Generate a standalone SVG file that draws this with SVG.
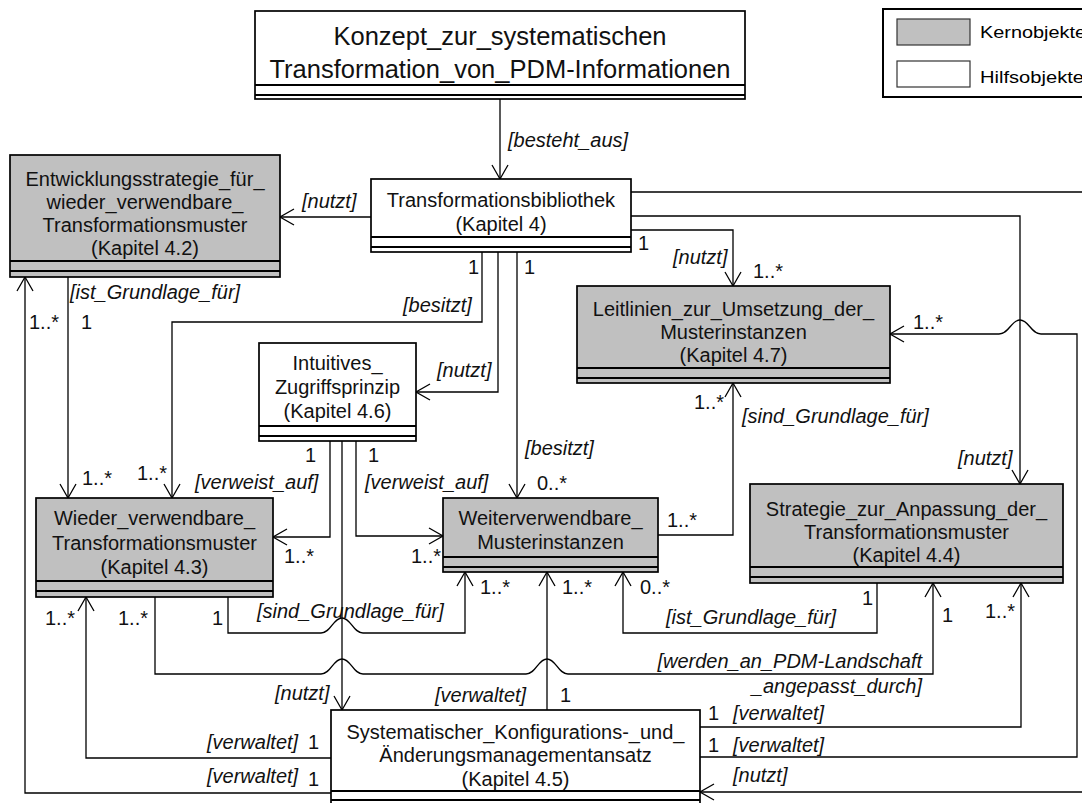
<svg xmlns="http://www.w3.org/2000/svg" width="1082" height="803" viewBox="0 0 1082 803">
  <style>
    .box { stroke: #000; stroke-width: 1.7; }
    .core { fill: #c0c0c0; }
    .aux { fill: #fff; }
    .div { stroke: #000; stroke-width: 2; }
    .t { font-family: "Liberation Sans", Arial, sans-serif; font-size: 20px; text-anchor: middle; fill: #111; }
    .title { font-family: "Liberation Sans", Arial, sans-serif; font-size: 25.5px; text-anchor: middle; fill: #111; }
    .lb { font-family: "Liberation Sans", Arial, sans-serif; font-size: 20px; font-style: italic; fill: #111; }
    .end { text-anchor: end; }
    .m { font-family: "Liberation Sans", Arial, sans-serif; font-size: 20px; fill: #111; }
    .conn { fill: none; stroke: #000; stroke-width: 1.3; }
    .conn.a { marker-end: url(#arr); }
    .lg { font-family: "Liberation Sans", Arial, sans-serif; font-size: 16.5px; fill: #000; }
  </style>
  <defs>
    <marker id="arr" markerWidth="16" markerHeight="18" refX="15" refY="9" orient="auto" markerUnits="userSpaceOnUse" overflow="visible">
      <path d="M1,1 L15,9 L1,17" fill="none" stroke="#000" stroke-width="1.3"/>
    </marker>
  </defs>
  <rect width="1082" height="803" fill="#fff"/>

  <!-- connectors -->
  <g id="connectors">
    <path class="conn a" d="M500,99 V179"/>
    <path class="conn a" d="M371,217 H280"/>
    <path class="conn a" d="M631,230 H733 V286"/>
    <path class="conn a" d="M631,216 H1020 V484"/>
    <path class="conn a" d="M631,192 H1100 V792 H700"/>
    <path class="conn a" d="M482,252 V322 H172 V498"/>
    <path class="conn a" d="M498,252 V392 H416"/>
    <path class="conn a" d="M517,252 V498"/>
    <path class="conn a" d="M68,277 V498"/>
    <path class="conn a" d="M331,793 H25 V277"/>
    <path class="conn a" d="M331,758 H86 V597"/>
    <path class="conn a" d="M330,441 V537 H273"/>
    <path class="conn a" d="M356,441 V536 H443"/>
    <path class="conn a" d="M342,441 V710"/>
    <path class="conn a" d="M228,597 V633 H321 C331,633 333,618 342,618 C351,618 353,633 363,633 H465 V572"/>
    <path class="conn a" d="M155,597 V674 H321 C331,674 333,659 342,659 C351,659 353,674 363,674 H526 C536,674 538,659 547,659 C556,659 558,674 568,674 H933 V583"/>
    <path class="conn a" d="M547,710 V572"/>
    <path class="conn a" d="M877,583 V633 H623 V572"/>
    <path class="conn a" d="M658,535 H733 V383"/>
    <path class="conn a" d="M700,727 H1021 V583"/>
    <path class="conn a" d="M700,757 H1077 V334 H1041 C1031,334 1029,320 1020,320 C1011,320 1009,334 999,334 H890"/>
  </g>

  <!-- connector labels -->
  <g id="labels">
    <text class="lb" x="508" y="147">[besteht_aus]</text>
    <text class="lb" x="302" y="208">[nutzt]</text>
    <text class="lb" x="673" y="264">[nutzt]</text>
    <text class="lb" x="403" y="312">[besitzt]</text>
    <text class="lb" x="437" y="377">[nutzt]</text>
    <text class="lb" x="525" y="455">[besitzt]</text>
    <text class="lb" x="70" y="299">[ist_Grundlage_für]</text>
    <text class="lb" x="195" y="489">[verweist_auf]</text>
    <text class="lb" x="365" y="489">[verweist_auf]</text>
    <text class="lb" x="742" y="423">[sind_Grundlage_für]</text>
    <text class="lb" x="958" y="465">[nutzt]</text>
    <text class="lb" x="257" y="618">[sind_Grundlage_für]</text>
    <text class="lb" x="666" y="624">[ist_Grundlage_für]</text>
    <text class="lb end" x="922" y="668">[werden_an_PDM-Landschaft</text>
    <text class="lb end" x="922" y="693">_angepasst_durch]</text>
    <text class="lb" x="275" y="700">[nutzt]</text>
    <text class="lb" x="435" y="702">[verwaltet]</text>
    <text class="lb" x="733" y="720">[verwaltet]</text>
    <text class="lb" x="733" y="752">[verwaltet]</text>
    <text class="lb" x="733" y="782">[nutzt]</text>
    <text class="lb" x="207" y="749">[verwaltet]</text>
    <text class="lb" x="207" y="783">[verwaltet]</text>

    <text class="m" x="638" y="250">1</text>
    <text class="m" x="753" y="278">1..*</text>
    <text class="m" x="468" y="274">1</text>
    <text class="m" x="524" y="274">1</text>
    <text class="m" x="537" y="490">0..*</text>
    <text class="m" x="29" y="329">1..*</text>
    <text class="m" x="81" y="329">1</text>
    <text class="m" x="82" y="485">1..*</text>
    <text class="m" x="137" y="480">1..*</text>
    <text class="m" x="305" y="462">1</text>
    <text class="m" x="368" y="462">1</text>
    <text class="m" x="284" y="563">1..*</text>
    <text class="m" x="411" y="563">1..*</text>
    <text class="m" x="667" y="527">1..*</text>
    <text class="m" x="694" y="409">1..*</text>
    <text class="m" x="913" y="329">1..*</text>
    <text class="m" x="45" y="625">1..*</text>
    <text class="m" x="118" y="625">1..*</text>
    <text class="m" x="212" y="625">1</text>
    <text class="m" x="480" y="594">1..*</text>
    <text class="m" x="562" y="594">1..*</text>
    <text class="m" x="640" y="594">0..*</text>
    <text class="m" x="862" y="605">1</text>
    <text class="m" x="942" y="622">1</text>
    <text class="m" x="985" y="618">1..*</text>
    <text class="m" x="560" y="702">1</text>
    <text class="m" x="708" y="720">1</text>
    <text class="m" x="708" y="752">1</text>
    <text class="m" x="308" y="749">1</text>
    <text class="m" x="308" y="786">1</text>
  </g>

  <!-- nodes -->
  <g id="konzept">
    <rect class="box aux" x="255" y="11" width="490" height="88"/>
    <line class="div" x1="255" y1="85" x2="745" y2="85"/>
    <line class="div" x1="255" y1="95" x2="745" y2="95"/>
    <text class="title" x="500" y="45">Konzept_zur_systematischen</text>
    <text class="title" x="500" y="78">Transformation_von_PDM-Informationen</text>
  </g>

  <g id="entwicklungsstrategie">
    <rect class="box core" x="10" y="155" width="270" height="122"/>
    <line class="div" x1="10" y1="261" x2="280" y2="261"/>
    <line class="div" x1="10" y1="271" x2="280" y2="271"/>
    <text class="t" x="145" y="186">Entwicklungsstrategie_für_</text>
    <text class="t" x="145" y="209">wieder_verwendbare_</text>
    <text class="t" x="145" y="232">Transformationsmuster</text>
    <text class="t" x="145" y="255">(Kapitel 4.2)</text>
  </g>

  <g id="transformationsbibliothek">
    <rect class="box aux" x="371" y="179" width="260" height="73"/>
    <line class="div" x1="371" y1="237" x2="631" y2="237"/>
    <line class="div" x1="371" y1="247" x2="631" y2="247"/>
    <text class="t" x="501" y="207">Transformationsbibliothek</text>
    <text class="t" x="501" y="231">(Kapitel 4)</text>
  </g>

  <g id="leitlinien">
    <rect class="box core" x="577" y="286" width="313" height="97"/>
    <line class="div" x1="577" y1="368" x2="890" y2="368"/>
    <line class="div" x1="577" y1="378" x2="890" y2="378"/>
    <text class="t" x="733.5" y="316">Leitlinien_zur_Umsetzung_der_</text>
    <text class="t" x="733.5" y="339">Musterinstanzen</text>
    <text class="t" x="733.5" y="362">(Kapitel 4.7)</text>
  </g>

  <g id="zugriffsprinzip">
    <rect class="box aux" x="259" y="343" width="157" height="98"/>
    <line class="div" x1="259" y1="426" x2="416" y2="426"/>
    <line class="div" x1="259" y1="436" x2="416" y2="436"/>
    <text class="t" x="337.5" y="370">Intuitives_</text>
    <text class="t" x="337.5" y="394">Zugriffsprinzip</text>
    <text class="t" x="337.5" y="418">(Kapitel 4.6)</text>
  </g>

  <g id="transformationsmuster">
    <rect class="box core" x="36" y="498" width="237" height="99"/>
    <line class="div" x1="36" y1="581" x2="273" y2="581"/>
    <line class="div" x1="36" y1="591" x2="273" y2="591"/>
    <text class="t" x="154.5" y="525">Wieder_verwendbare_</text>
    <text class="t" x="154.5" y="550">Transformationsmuster</text>
    <text class="t" x="154.5" y="574">(Kapitel 4.3)</text>
  </g>

  <g id="musterinstanzen">
    <rect class="box core" x="443" y="498" width="215" height="74"/>
    <line class="div" x1="443" y1="557" x2="658" y2="557"/>
    <line class="div" x1="443" y1="567" x2="658" y2="567"/>
    <text class="t" x="550.5" y="525">Weiterverwendbare_</text>
    <text class="t" x="550.5" y="549">Musterinstanzen</text>
  </g>

  <g id="anpassungsstrategie">
    <rect class="box core" x="750" y="484" width="313" height="99"/>
    <line class="div" x1="750" y1="567" x2="1063" y2="567"/>
    <line class="div" x1="750" y1="577" x2="1063" y2="577"/>
    <text class="t" x="906.5" y="516">Strategie_zur_Anpassung_der_</text>
    <text class="t" x="906.5" y="539">Transformationsmuster</text>
    <text class="t" x="906.5" y="562">(Kapitel 4.4)</text>
  </g>

  <g id="konfigurationsmanagement">
    <rect class="box aux" x="331" y="710" width="369" height="96"/>
    <line class="div" x1="331" y1="791" x2="700" y2="791"/>
    <line class="div" x1="331" y1="800" x2="700" y2="800"/>
    <text class="t" x="515.5" y="739">Systematischer_Konfigurations-_und_</text>
    <text class="t" x="515.5" y="762">Änderungsmanagementansatz</text>
    <text class="t" x="515.5" y="786">(Kapitel 4.5)</text>
  </g>

  <!-- legend -->
  <g id="legend">
    <rect x="883" y="9" width="210" height="88" fill="#fff" stroke="#000" stroke-width="2"/>
    <rect x="897" y="19" width="73" height="26" fill="#c0c0c0" stroke="#333" stroke-width="1.2"/>
    <rect x="897" y="61" width="73" height="26" fill="#fff" stroke="#333" stroke-width="1.2"/>
    <text class="lg" x="980" y="38" textLength="106" lengthAdjust="spacingAndGlyphs">Kernobjekte</text>
    <text class="lg" x="980" y="83" textLength="104" lengthAdjust="spacingAndGlyphs">Hilfsobjekte</text>
  </g>
</svg>
